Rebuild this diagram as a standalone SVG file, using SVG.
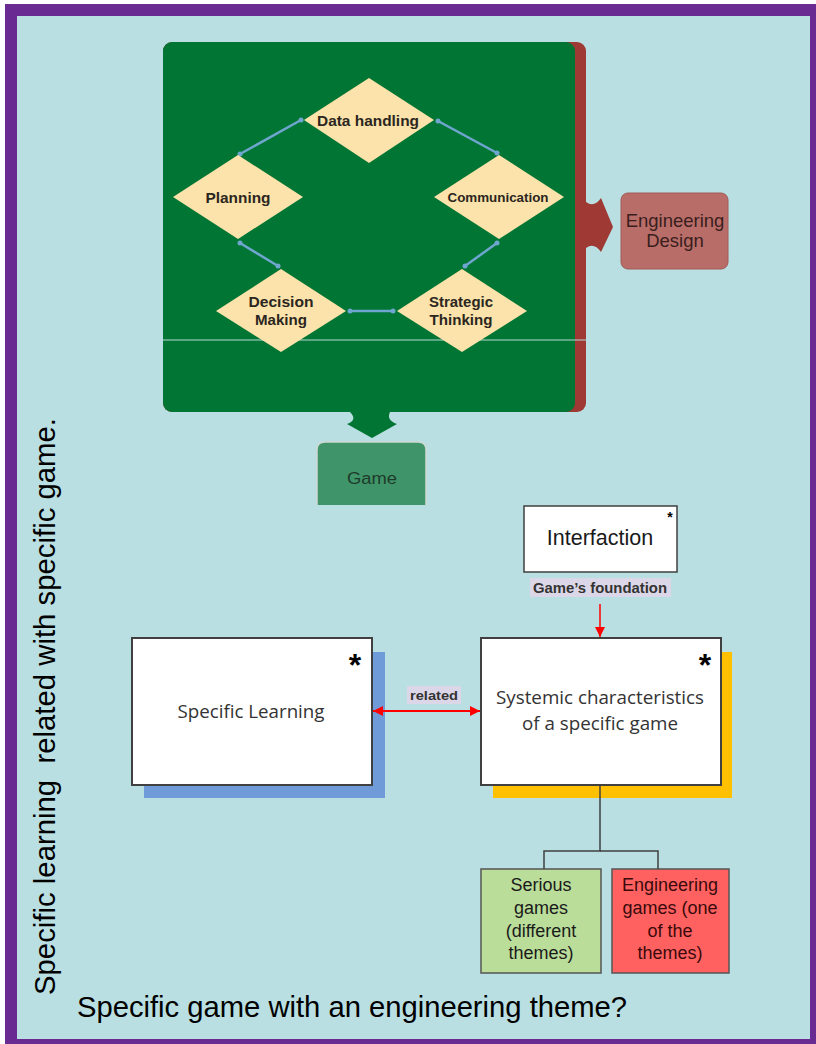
<svg xmlns="http://www.w3.org/2000/svg" width="816" height="1044" viewBox="0 0 816 1044">
<defs>
<style>
.dia{fill:#fbe3ab;}
.dtx{font-family:"Liberation Sans",Arial,sans-serif;font-weight:bold;font-size:14.5px;fill:#2b2620;text-anchor:middle;}
.blk{stroke:#6fa6cf;stroke-width:2.5;fill:none;}
.dot{fill:#6fa6cf;}
.box{fill:#ffffff;stroke:#404040;stroke-width:2;}
.cal{font-family:"Open Sans","Noto Sans",sans-serif;font-size:18px;fill:#333333;text-anchor:middle;}
.ar{font-family:"Liberation Sans",Arial,sans-serif;fill:#1a1a1a;text-anchor:middle;}
.gm{font-family:"Liberation Sans",Arial,sans-serif;font-size:18px;fill:#1a1a1a;text-anchor:middle;}
.star{font-family:"Liberation Sans",Arial,sans-serif;font-weight:bold;fill:#000;text-anchor:middle;}
.lbl{fill:#dcd7e8;}
.lt{font-family:"Liberation Sans",Arial,sans-serif;font-weight:bold;font-size:14px;fill:#333;text-anchor:middle;}
</style>
<marker id="ra" viewBox="0 0 10 10" refX="10" refY="5" markerWidth="10" markerHeight="10" markerUnits="userSpaceOnUse" orient="auto-start-reverse">
<path d="M0,0 L10,5 L0,10 z" fill="#ff0000"/>
</marker>
</defs>
<rect x="0" y="0" width="816" height="1044" fill="#ffffff"/>
<rect x="11" y="10" width="805" height="1035" fill="#b9dfe2" stroke="#692a92" stroke-width="12"/>

<g id="panel">
<rect x="163" y="42" width="423" height="370" rx="9" fill="#9e3a33"/>
<rect x="163" y="42" width="412" height="370" rx="9" fill="#017533"/>
<path d="M586,202 Q594,208 601,198 L613,227 L601,252 Q594,242 586,248 z" fill="#9e3a33"/>
<path d="M350,412 L390,412 Q386,420 397,424 L372,438 L347,424 Q358,420 350,412 z" fill="#017533"/>
<line x1="163" y1="340" x2="587" y2="340" stroke="#b6d9d6" stroke-width="1"/>
</g>

<g id="connectors-top">
<line class="blk" x1="240" y1="154" x2="301" y2="120"/>
<line class="blk" x1="438" y1="121" x2="497" y2="153"/>
<line class="blk" x1="240" y1="243" x2="278" y2="266"/>
<line class="blk" x1="497" y1="243" x2="465" y2="266"/>
<line class="blk" x1="350" y1="311" x2="393" y2="311"/>
<circle class="dot" cx="240" cy="154" r="2.5"/><circle class="dot" cx="301" cy="120" r="2.5"/>
<circle class="dot" cx="438" cy="121" r="2.5"/><circle class="dot" cx="497" cy="153" r="2.5"/>
<circle class="dot" cx="240" cy="243" r="2.5"/><circle class="dot" cx="278" cy="266" r="2.5"/>
<circle class="dot" cx="497" cy="243" r="2.5"/><circle class="dot" cx="465" cy="266" r="2.5"/>
<circle class="dot" cx="350" cy="311" r="2.5"/><circle class="dot" cx="393" cy="311" r="2.5"/>
</g>

<g id="data-handling">
<polygon class="dia" points="304,120 369,78 434,120 369,163"/>
<text class="dtx" x="368" y="126" textLength="102" lengthAdjust="spacingAndGlyphs">Data handling</text>
</g>
<g id="planning">
<polygon class="dia" points="173,197 238,155 303,197 238,239"/>
<text class="dtx" x="238" y="203" textLength="65" lengthAdjust="spacingAndGlyphs">Planning</text>
</g>
<g id="communication">
<polygon class="dia" points="434,197 499,155 564,197 499,239"/>
<text class="dtx" x="498" y="202" style="font-size:12px" textLength="101" lengthAdjust="spacingAndGlyphs">Communication</text>
</g>
<g id="decision-making">
<polygon class="dia" points="216,311 281,269 346,311 281,352"/>
<text class="dtx" x="281" y="307" textLength="65" lengthAdjust="spacingAndGlyphs">Decision</text>
<text class="dtx" x="281" y="325" textLength="52" lengthAdjust="spacingAndGlyphs">Making</text>
</g>
<g id="strategic-thinking">
<polygon class="dia" points="397,311 462,269 527,311 462,352"/>
<text class="dtx" x="461" y="307" textLength="64" lengthAdjust="spacingAndGlyphs">Strategic</text>
<text class="dtx" x="461" y="325" textLength="63" lengthAdjust="spacingAndGlyphs">Thinking</text>
</g>

<g id="engineering-design">
<rect x="621" y="193" width="107" height="76" rx="7" fill="#b96d68" stroke="#a05a55" stroke-width="1"/>
<text class="ar" x="675" y="227" style="font-size:18.5px;fill:#3a1e1e">Engineering</text>
<text class="ar" x="675" y="247" style="font-size:18.5px;fill:#3a1e1e">Design</text>
</g>

<g id="game">
<path d="M317,505 L317,450 Q317,442 325,442 L418,442 Q426,442 426,450 L426,505 z" fill="#3f9569"/>
<path d="M317,505 L317,450 Q317,442 325,442 L418,442 Q426,442 426,450 L426,505" fill="none" stroke="#cfd8d2" stroke-width="1.5"/>
<text class="ar" x="372" y="484" style="font-size:16px;fill:#1e3a2a" textLength="50" lengthAdjust="spacingAndGlyphs">Game</text>
</g>

<g id="interfaction">
<rect class="box" x="524" y="506" width="153" height="66" style="stroke-width:1.5"/>
<text class="ar" x="600" y="545" style="font-size:21.5px">Interfaction</text>
<text class="star" x="670" y="522" style="font-size:14px">*</text>
</g>

<g id="specific-learning">
<rect x="144" y="652" width="241" height="146" fill="#6f9bd9"/>
<rect class="box" x="132" y="638" width="240" height="147"/>
<text class="cal" x="251" y="718" textLength="147" lengthAdjust="spacingAndGlyphs">Specific Learning</text>
<text class="star" x="355" y="676" style="font-size:32px">*</text>
</g>

<g id="systemic">
<rect x="493" y="652" width="239" height="146" fill="#ffc000"/>
<rect class="box" x="481" y="638" width="240" height="147"/>
<text class="cal" x="600" y="704" textLength="208" lengthAdjust="spacingAndGlyphs">Systemic characteristics</text>
<text class="cal" x="600" y="730" textLength="156" lengthAdjust="spacingAndGlyphs">of a specific game</text>
<text class="star" x="705" y="676" style="font-size:32px">*</text>
</g>

<g id="serious-games">
<rect x="481" y="869" width="120" height="104" fill="#bade9a" stroke="#555" stroke-width="1.5"/>
<text class="gm" x="541" y="891">Serious</text>
<text class="gm" x="541" y="914">games</text>
<text class="gm" x="541" y="937">(different</text>
<text class="gm" x="541" y="959">themes)</text>
</g>

<g id="engineering-games">
<rect x="612" y="869" width="117" height="104" fill="#ff6161" stroke="#555" stroke-width="1.5"/>
<text class="gm" x="670" y="891" style="fill:#3a0a0a">Engineering</text>
<text class="gm" x="670" y="914" style="fill:#3a0a0a">games (one</text>
<text class="gm" x="670" y="937" style="fill:#3a0a0a">of the</text>
<text class="gm" x="670" y="959" style="fill:#3a0a0a">themes)</text>
</g>

<g id="connectors">
<rect class="lbl" x="530" y="578" width="141" height="19"/>
<text class="lt" x="600" y="593" textLength="134" lengthAdjust="spacingAndGlyphs">Game’s foundation</text>
<line x1="600" y1="604" x2="600" y2="637" stroke="#ff0000" stroke-width="1.5" marker-end="url(#ra)"/>
<line x1="373" y1="711" x2="480" y2="711" stroke="#ff0000" stroke-width="1.8" marker-start="url(#ra)" marker-end="url(#ra)"/>
<rect class="lbl" x="407" y="686" width="54" height="18"/>
<text class="lt" x="434" y="700" style="font-size:13px" textLength="48" lengthAdjust="spacingAndGlyphs">related</text>
<polyline points="600,786 600,851 544,851 544,869" fill="none" stroke="#404040" stroke-width="1.5"/>
<polyline points="600,851 658,851 658,869" fill="none" stroke="#404040" stroke-width="1.5"/>
</g>

<text xml:space="preserve" x="55" y="995" transform="rotate(-90 55 995)" font-family="Liberation Sans, Arial, sans-serif" font-size="29" fill="#000" textLength="577" lengthAdjust="spacingAndGlyphs">Specific learning  related with specific game.</text>
<text x="77" y="1017" font-family="Liberation Sans, Arial, sans-serif" font-size="29" fill="#000" textLength="550" lengthAdjust="spacingAndGlyphs">Specific game with an engineering theme?</text>
</svg>
